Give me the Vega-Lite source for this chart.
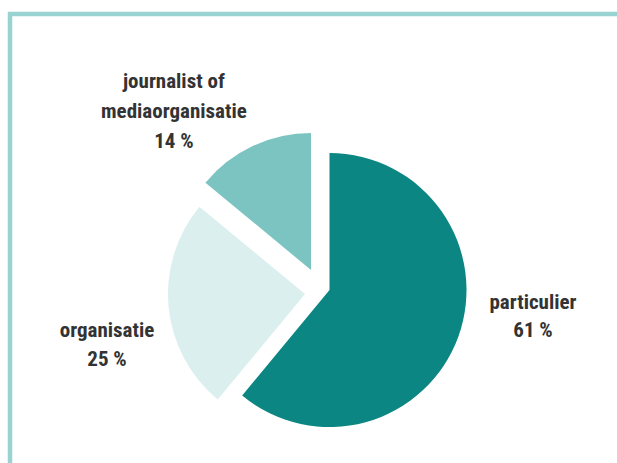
{
  "$schema": "https://vega.github.io/schema/vega-lite/v6.json",
  "width": 607,
  "height": 449,
  "autosize": {"type": "none"},
  "padding": {"left": 10, "top": 14, "right": 0, "bottom": 0},
  "background": "white",
  "view": {"stroke": "#98d3d2", "strokeWidth": 4.5, "strokeDash": [607, 1056, 449]},
  "config": {
    "view": {"stroke": "#98d3d2", "strokeWidth": 4.5, "strokeDash": [607, 1056, 449]},
    "text": {"font": "Roboto Condensed, Roboto, sans-serif", "fontWeight": "bold", "fontSize": 21, "fill": "#333333", "lineBreak": "\n", "lineHeight": 29, "align": "center", "baseline": "middle"}
  },
  "data": {"values": [
    {"categorie": "particulier", "value": 61, "label": "particulier\n61 %"},
    {"categorie": "organisatie", "value": 25, "label": "organisatie\n25 %"},
    {"categorie": "journalist of mediaorganisatie", "value": 14, "label": "journalist of\nmediaorganisatie\n14 %"}
  ]},
  "transform": [
    {"stack": "value", "groupby": [], "sort": [{"field": "value", "order": "descending"}], "as": ["start", "end"]}
  ],
  "layer": [
    {
      "transform": [{"filter": "datum.categorie === 'particulier'"}],
      "mark": {"type": "arc", "radius": 137, "xOffset": 16, "yOffset": 51.5},
      "encoding": {
        "theta": {"field": "start", "type": "quantitative", "scale": {"domain": [0, 100]}},
        "theta2": {"field": "end"},
        "color": {"field": "categorie", "type": "nominal", "legend": null,
        "scale": {"domain": ["particulier", "organisatie", "journalist of mediaorganisatie"], "range": ["#0b8682", "#dcefef", "#7cc4c2"]}}}
    },
    {
      "transform": [{"filter": "datum.categorie === 'organisatie'"}],
      "mark": {"type": "arc", "radius": 137, "xOffset": -8.5, "yOffset": 55.5},
      "encoding": {
        "theta": {"field": "start", "type": "quantitative", "scale": {"domain": [0, 100]}},
        "theta2": {"field": "end"},
        "color": {"field": "categorie", "type": "nominal", "legend": null}}
    },
    {
      "transform": [{"filter": "datum.categorie === 'journalist of mediaorganisatie'"}],
      "mark": {"type": "arc", "radius": 137, "xOffset": -2.5, "yOffset": 31.5},
      "encoding": {
        "theta": {"field": "start", "type": "quantitative", "scale": {"domain": [0, 100]}},
        "theta2": {"field": "end"},
        "color": {"field": "categorie", "type": "nominal", "legend": null}}
    },
    {
      "transform": [{"filter": "datum.categorie === 'particulier'"}],
      "mark": {"type": "text", "radius": 200, "xOffset": 16, "yOffset": 51.5, "dx": 203.5, "dy": 213, "lineHeight": 28},
      "encoding": {
        "theta": {"field": "start", "type": "quantitative", "scale": {"domain": [0, 100]}},
        "text": {"field": "label"}}
    },
    {
      "transform": [{"filter": "datum.categorie === 'organisatie'"}],
      "mark": {"type": "text", "radius": 200, "xOffset": 16, "yOffset": 51.5, "dx": -95, "dy": -113, "lineHeight": 29},
      "encoding": {
        "theta": {"field": "start", "type": "quantitative", "scale": {"domain": [0, 100]}},
        "text": {"field": "label"}}
    },
    {
      "transform": [{"filter": "datum.categorie === 'journalist of mediaorganisatie'"}],
      "mark": {"type": "text", "radius": 200, "xOffset": 16, "yOffset": 51.5, "dx": -1.5, "dy": -80.5, "lineHeight": 30},
      "encoding": {
        "theta": {"field": "start", "type": "quantitative", "scale": {"domain": [0, 100]}},
        "text": {"field": "label"}}
    }
  ]
}
